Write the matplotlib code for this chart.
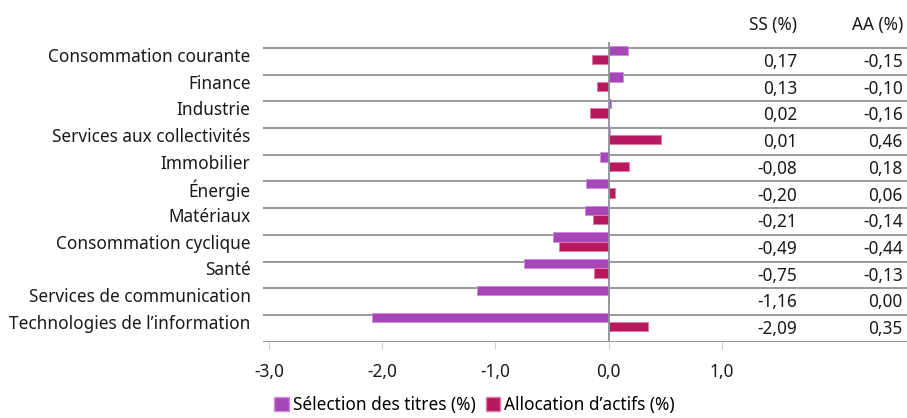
import matplotlib.pyplot as plt
from matplotlib.patches import Patch

plt.rcParams["font.family"] = ["Noto Sans", "DejaVu Sans"]
plt.rcParams["font.size"] = 12.4

sectors = [
    "Consommation courante", "Finance", "Industrie", "Services aux collectivités",
    "Immobilier", "Énergie", "Matériaux", "Consommation cyclique", "Santé",
    "Services de communication", "Technologies de l’information",
]
ss = [0.17, 0.13, 0.02, 0.01, -0.08, -0.20, -0.21, -0.49, -0.75, -1.16, -2.09]
aa = [-0.15, -0.10, -0.16, 0.46, 0.18, 0.06, -0.14, -0.44, -0.13, 0.00, 0.35]
xticks = [-3, -2, -1, 0, 1]

purple = "#A646B7"
crimson = "#B8195E"
grid_col = "#8C9298"
text_col = "#1A1A1A"


def fr(v, dec=2):
    return f"{v:.{dec}f}".replace(".", ",")


fig = plt.figure(figsize=(9.07, 4.18), dpi=100)
ax = fig.add_axes([0.29, 0.182, 0.71, 0.718])

ypos = list(range(len(sectors)))
ax.barh([y - 0.175 for y in ypos], ss, height=0.35, color=purple,
        edgecolor="#D48BE0", linewidth=0.7, zorder=3)
ax.barh([y + 0.175 for y in ypos], aa, height=0.35, color=crimson,
        edgecolor="#E57AA5", linewidth=0.7, zorder=3)

xmin, xmax = -3.053, 2.637
ax.set_xlim(xmin, xmax)
ax.set_ylim(10.75, -0.49)

# row separators double as the table rules
for i in range(len(sectors) + 1):
    ax.axhline(i - 0.26, color=grid_col, lw=1.3, zorder=2)
ax.axvline(0, color=grid_col, lw=1.3, zorder=4)

# table on the right
x_ss, x_aa = 1.664, 2.60
ax.text(x_ss, -1.12, "SS (%)", ha="right", va="center", color=text_col)
ax.text(x_aa, -1.12, "AA (%)", ha="right", va="center", color=text_col)
for i in ypos:
    ax.text(x_ss, i + 0.27, fr(ss[i]), ha="right", va="center", color=text_col)
    ax.text(x_aa, i + 0.27, fr(aa[i]), ha="right", va="center", color=text_col)

ax.set_yticks(ypos)
ax.set_yticklabels(sectors, color=text_col)
ax.tick_params(axis="y", length=0, pad=9)
ax.set_xticks(xticks)
ax.set_xticklabels([fr(v, 1) for v in xticks], color=text_col)
ax.tick_params(axis="x", length=5, color="#C8CCD0", pad=10)
for s in ax.spines.values():
    s.set_visible(False)

handles = [Patch(facecolor=purple, edgecolor="#D48BE0", label="Sélection des titres (%)"),
           Patch(facecolor=crimson, edgecolor="#E57AA5", label="Allocation d’actifs (%)")]
fig.legend(handles=handles, loc="center", bbox_to_anchor=(0.523, 0.031), ncol=2,
           frameon=False, handlelength=0.85, handleheight=0.85, handletextpad=0.2,
           columnspacing=0.6, borderaxespad=0)

fig.savefig("out.png", dpi=100)
